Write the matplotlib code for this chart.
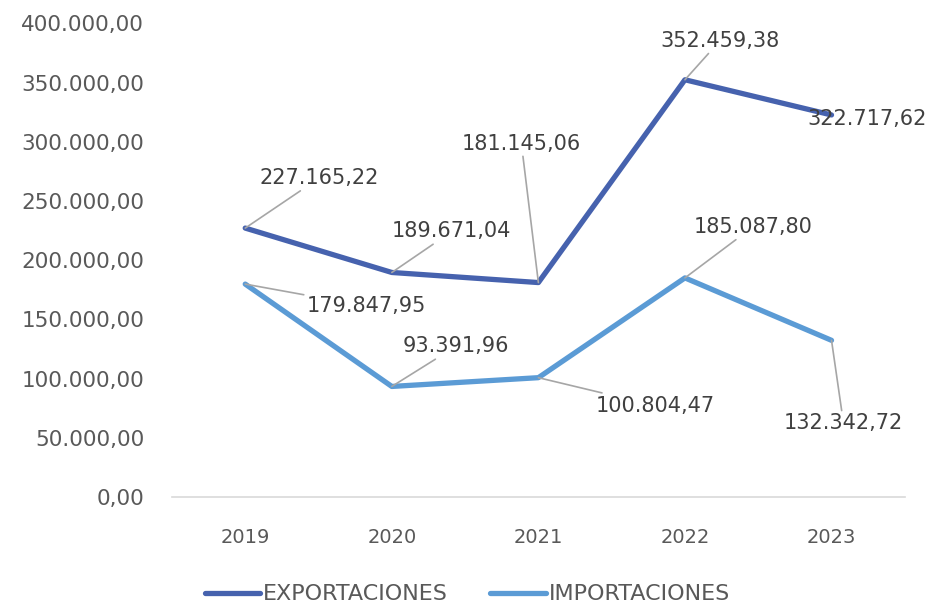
import matplotlib.pyplot as plt

years = ['2019', '2020', '2021', '2022', '2023']
exportaciones = [227165.22, 189671.04, 181145.06, 352459.38, 322717.62]
importaciones = [179847.95, 93391.96, 100804.47, 185087.80, 132342.72]

# label offsets in pixels from the point (Excel leader lines)
exp_offsets = [(74, 50), (60, 41), (-17, 139), (35, 39), (36, -4)]
exp_leader = [True, True, True, True, False]
imp_offsets = [(121, -22), (64, 40), (117, -28), (68, 51), (12, -83)]
imp_leader = [True, True, True, True, True]

c_exp = '#4662AE'
c_imp = '#5B9BD5'
txt = '#404040'
tick_c = '#595959'

plt.rcParams['font.family'] = ['DejaVu Sans']

def fmt(v):
    s = '{:,.2f}'.format(v)
    return s.replace(',', 'X').replace('.', ',').replace('X', '.')

fig = plt.figure(figsize=(9.28, 6.05), dpi=100)
ax = fig.add_axes([0.1853, 0.1785, 0.7897, 0.7827])

x = range(len(years))
ax.plot(x, exportaciones, color=c_exp, lw=3.8, solid_capstyle='round', label='EXPORTACIONES')
ax.plot(x, importaciones, color=c_imp, lw=3.8, solid_capstyle='round', label='IMPORTACIONES')

for vals, offs, leads in [(exportaciones, exp_offsets, exp_leader),
                          (importaciones, imp_offsets, imp_leader)]:
    for i, (v, o, lead) in enumerate(zip(vals, offs, leads)):
        ap = dict(arrowstyle='-', color='#A6A6A6', lw=1.2, shrinkA=0, shrinkB=0) if lead else None
        ax.annotate(fmt(v), xy=(i, v), xytext=o, textcoords='offset pixels',
                    ha='center', va='center', fontsize=15, color=txt, arrowprops=ap)

ax.set_xlim(-0.5, 4.5)
ax.set_ylim(0, 400000)
ax.set_yticks(range(0, 400001, 50000))
ax.set_yticklabels([fmt(t) for t in range(0, 400001, 50000)])
ax.set_xticks(list(x))
ax.set_xticklabels(years)
ax.tick_params(length=0, labelcolor=tick_c)
ax.tick_params(axis='y', labelsize=15.5, pad=20)
ax.tick_params(axis='x', labelsize=14, pad=22)
for s in ['top', 'right', 'left']:
    ax.spines[s].set_visible(False)
ax.spines['bottom'].set_color('#D9D9D9')
ax.spines['bottom'].set_linewidth(1.2)

leg = fig.legend(loc='center', bbox_to_anchor=(0.5038, 0.0174), ncol=2, frameon=False,
                 fontsize=16, handlelength=2.5, handletextpad=0.14, columnspacing=1.9)
for t in leg.get_texts():
    t.set_color(tick_c)

fig.savefig('out.png', dpi=100)
